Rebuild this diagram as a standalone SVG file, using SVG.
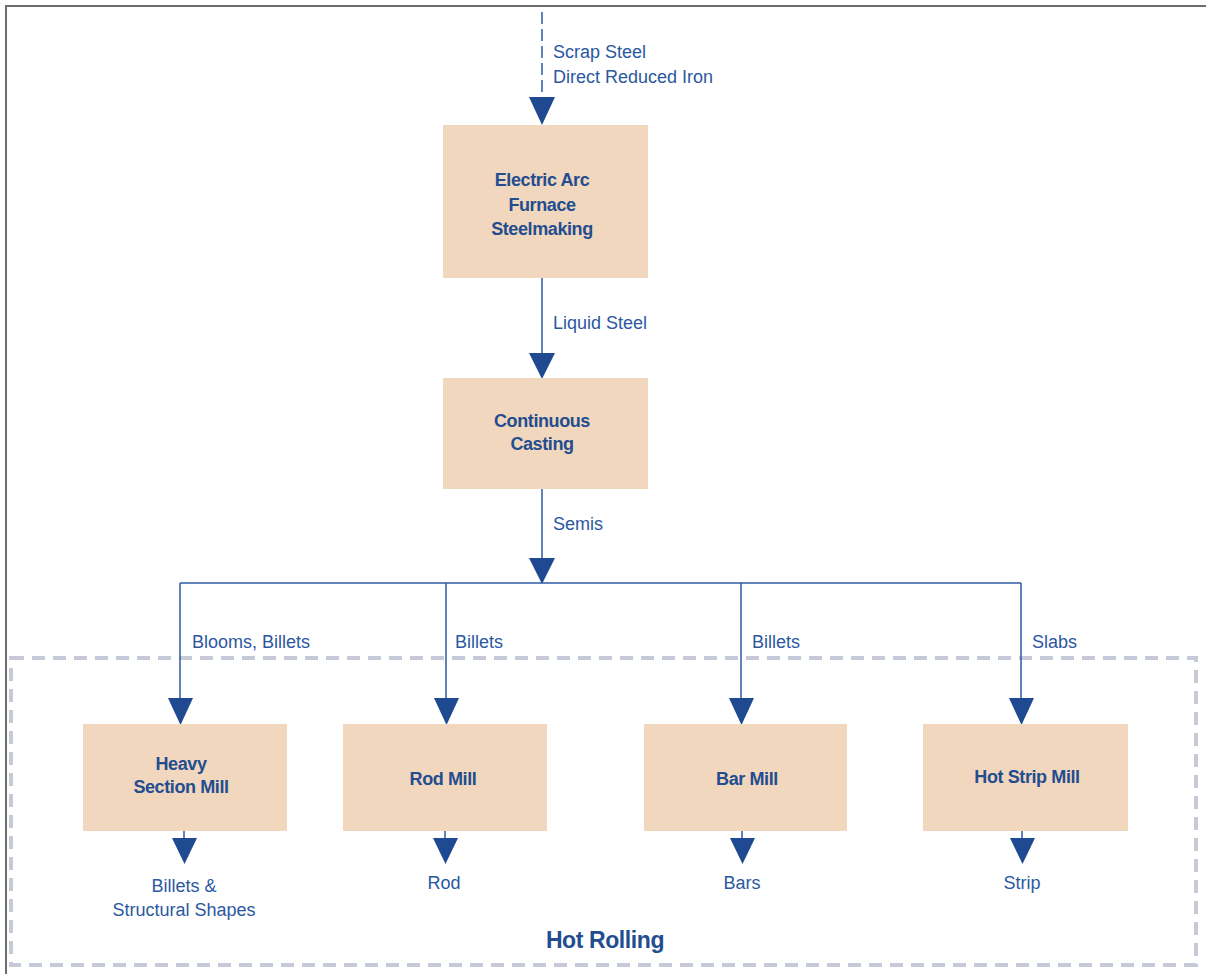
<svg xmlns="http://www.w3.org/2000/svg" width="1206" height="974" viewBox="0 0 1206 974">
<style>
.box{fill:#F1D7BE;}
.bt{font-family:"Liberation Sans",Arial,sans-serif;font-weight:bold;font-size:18px;fill:#234D8F;text-anchor:middle;letter-spacing:-0.4px;}
.lt{font-family:"Liberation Sans",Arial,sans-serif;font-size:18px;fill:#2B58A0;}
.ltc{font-family:"Liberation Sans",Arial,sans-serif;font-size:18px;fill:#2B58A0;text-anchor:middle;}
.ln{stroke:#2D5AA3;stroke-width:1.5;fill:none;}
.ah{fill:#1F4A91;}
</style>
<rect x="0" y="0" width="1206" height="974" fill="#FFFFFF"/>
<path d="M6 974 V6 H1206" stroke="#6E6E6E" stroke-width="2" fill="none"/>
<g id="hot-rolling">
<rect x="11" y="658" width="1185" height="307" fill="none" stroke="#C5C9D8" stroke-width="4" stroke-dasharray="13 8"/>
<text x="605" y="948" class="bt" style="font-size:23px">Hot Rolling</text>
</g>
<g id="connectors">
<line x1="542" y1="12" x2="542" y2="98" class="ln" stroke-dasharray="12 5"/>
<polygon points="529,97 555,97 542,125" class="ah"/>
<text x="553" y="58" class="lt">Scrap Steel</text>
<text x="553" y="83" class="lt">Direct Reduced Iron</text>
<line x1="542" y1="278" x2="542" y2="354" class="ln"/>
<polygon points="529,353 555,353 542,379" class="ah"/>
<text x="553" y="329" class="lt">Liquid Steel</text>
<line x1="542" y1="489" x2="542" y2="559" class="ln"/>
<polygon points="529,558 555,558 542,584" class="ah"/>
<text x="553" y="530" class="lt">Semis</text>
<line x1="180" y1="583" x2="1021" y2="583" class="ln"/>
<line x1="180" y1="583" x2="180" y2="699" class="ln"/>
<polygon points="168,698 193,698 180.5,725" class="ah"/>
<text x="192" y="648" class="lt">Blooms, Billets</text>
<line x1="446" y1="583" x2="446" y2="699" class="ln"/>
<polygon points="434,698 459,698 446.5,725" class="ah"/>
<text x="455" y="648" class="lt">Billets</text>
<line x1="741" y1="583" x2="741" y2="699" class="ln"/>
<polygon points="729,698 754,698 741.5,725" class="ah"/>
<text x="752" y="648" class="lt">Billets</text>
<line x1="1021" y1="583" x2="1021" y2="699" class="ln"/>
<polygon points="1009,698 1034,698 1021.5,725" class="ah"/>
<text x="1032" y="648" class="lt">Slabs</text>
<line x1="184" y1="831" x2="184" y2="839" class="ln"/>
<polygon points="172,838 197,838 184.5,864" class="ah"/>
<line x1="445" y1="831" x2="445" y2="839" class="ln"/>
<polygon points="433,838 458,838 445.5,864" class="ah"/>
<line x1="742" y1="831" x2="742" y2="839" class="ln"/>
<polygon points="730,838 755,838 742.5,864" class="ah"/>
<line x1="1022" y1="831" x2="1022" y2="839" class="ln"/>
<polygon points="1010,838 1035,838 1022.5,864" class="ah"/>
<text x="184" y="892" class="ltc">Billets &amp;</text>
<text x="184" y="916" class="ltc">Structural Shapes</text>
<text x="444" y="889" class="ltc">Rod</text>
<text x="742" y="889" class="ltc">Bars</text>
<text x="1022" y="889" class="ltc">Strip</text>
</g>
<g id="eaf">
<rect x="443" y="125" width="205" height="153" class="box"/>
<text x="542" y="186" class="bt">Electric Arc</text>
<text x="542" y="211" class="bt">Furnace</text>
<text x="542" y="235" class="bt">Steelmaking</text>
</g>
<g id="casting">
<rect x="443" y="378" width="205" height="111" class="box"/>
<text x="542" y="427" class="bt">Continuous</text>
<text x="542" y="450" class="bt">Casting</text>
</g>
<g id="heavy-section-mill">
<rect x="83" y="724" width="204" height="107" class="box"/>
<text x="181" y="770" class="bt">Heavy</text>
<text x="181" y="793" class="bt">Section Mill</text>
</g>
<g id="rod-mill">
<rect x="343" y="724" width="204" height="107" class="box"/>
<text x="443" y="785" class="bt">Rod Mill</text>
</g>
<g id="bar-mill">
<rect x="644" y="724" width="203" height="107" class="box"/>
<text x="747" y="785" class="bt">Bar Mill</text>
</g>
<g id="hot-strip-mill">
<rect x="923" y="724" width="205" height="107" class="box"/>
<text x="1027" y="783" class="bt">Hot Strip Mill</text>
</g>
</svg>
